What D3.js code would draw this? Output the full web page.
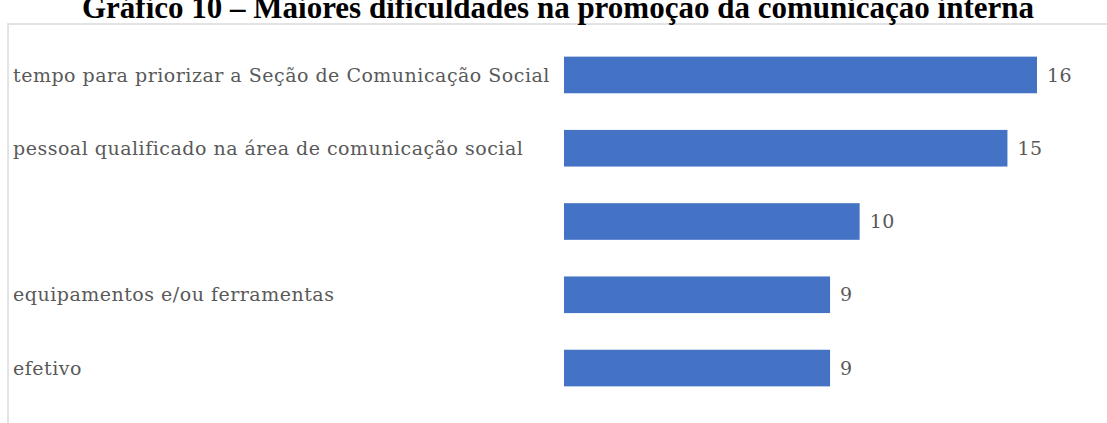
<!DOCTYPE html>
<html>
<head>
<meta charset="utf-8">
<script src="https://cdn.jsdelivr.net/npm/d3@7"></script>
<style>
  html, body { margin: 0; padding: 0; background: #fff; }
  svg { display: block; }
</style>
</head>
<body>
<svg id="chart" width="1107" height="423"></svg>
<script>
// Difficulties reported, in the order shown (top to bottom)
const categories = [
  "tempo para priorizar a Seção de Comunicação Social",
  "pessoal qualificado na área de comunicação social",
  "",
  "equipamentos e/ou ferramentas",
  "efetivo"
];
const counts = [16, 15, 10, 9, 9];
const title = "Gráfico 10 – Maiores dificuldades na promoção da comunicação interna";

const W = 1107, H = 423;
const svg = d3.select("#chart");

// Chart frame
const frame = { left: 8, top: 24 };
svg.append("path")
  .attr("d", `M${frame.left},${H} V${frame.top} H${W}`)
  .attr("fill", "none")
  .attr("stroke", "#e3e3e3")
  .attr("stroke-width", 2);

// Title (bold serif, partly cut by the top edge)
svg.append("text")
  .attr("x", 558)
  .attr("y", 18)
  .attr("text-anchor", "middle")
  .attr("font-family", "'Liberation Serif', 'Times New Roman', serif")
  .attr("font-weight", "bold")
  .attr("font-size", 31)
  .attr("fill", "#000")
  .text(title);

const x = d3.scaleLinear().domain([0, 16]).range([564, 1037]);
const y = d3.scaleBand()
  .domain(d3.range(categories.length))
  .range([20, 423])
  .paddingInner(0.5)
  .paddingOuter(0.5);

const labelFont = "'DejaVu Serif', serif";

// Category labels
svg.append("g")
  .selectAll("text")
  .data(categories)
  .join("text")
  .attr("x", 13)
  .attr("y", (d, i) => y(i) + y.bandwidth() / 2)
  .attr("dy", "0.35em")
  .attr("font-family", labelFont)
  .attr("font-size", 19)
  .attr("letter-spacing", 0.5)
  .attr("fill", "#595959")
  .text(d => d);

// Bars
svg.append("g")
  .selectAll("rect")
  .data(counts)
  .join("rect")
  .attr("x", x(0))
  .attr("y", (d, i) => y(i))
  .attr("width", d => x(d) - x(0))
  .attr("height", y.bandwidth())
  .attr("fill", "#4472c4");

// Value labels
svg.append("g")
  .selectAll("text")
  .data(counts)
  .join("text")
  .attr("x", d => x(d) + 10)
  .attr("y", (d, i) => y(i) + y.bandwidth() / 2)
  .attr("dy", "0.35em")
  .attr("font-family", labelFont)
  .attr("font-size", 19)
  .attr("letter-spacing", 0.5)
  .attr("fill", "#595959")
  .text(d => d);
</script>
</body>
</html>
